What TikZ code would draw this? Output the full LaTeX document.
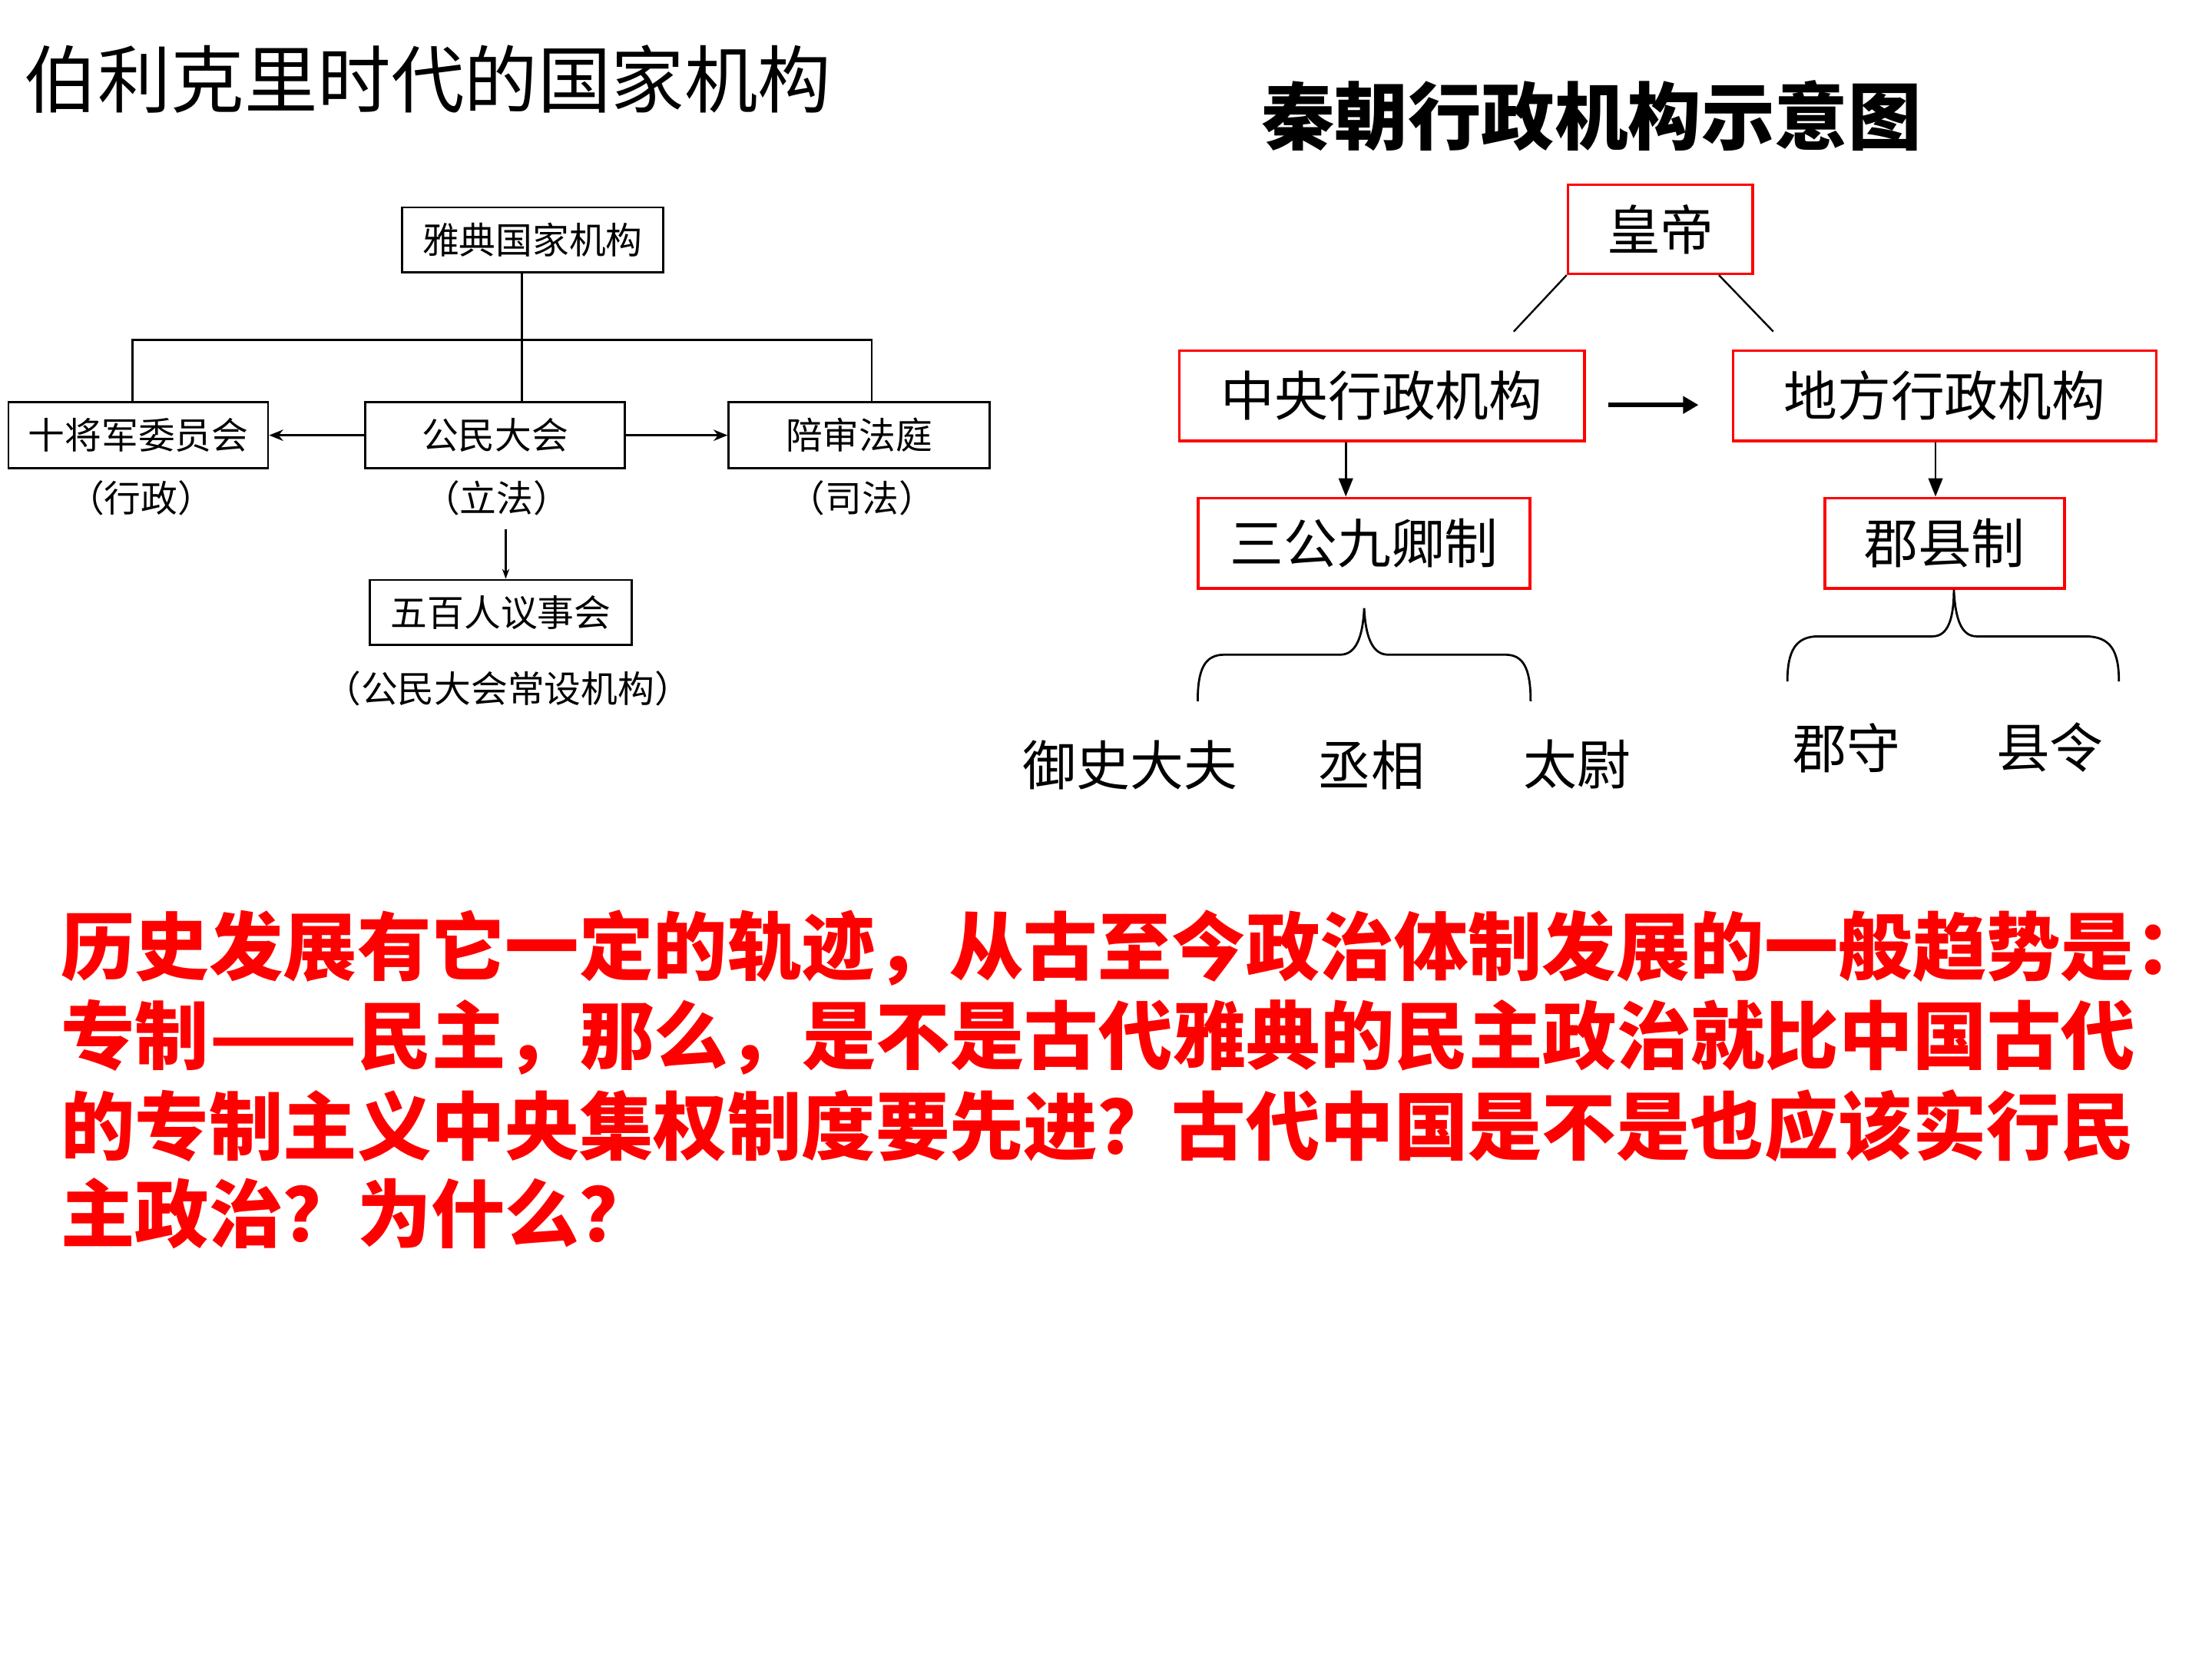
\documentclass[tikz,border=0pt]{standalone}
\usepackage{fontspec}
\setmainfont{Noto Sans CJK SC}
\usepackage{graphicx}
\usepackage{tikz}
\usetikzlibrary{arrows.meta,positioning,calc}
\tikzstyle{box} = [draw, line width=1.5pt, inner sep=0pt, font=\fontsize{26}{26}\selectfont]
\tikzstyle{redbox} = [draw=red, line width=2pt, inner sep=0pt, minimum height=64pt, font=\fontsize{38}{38}\selectfont]
\tikzstyle{note} = [inner sep=0pt, font=\fontsize{26}{26}\selectfont]
\tikzstyle{word} = [inner sep=0pt, font=\fontsize{38}{38}\selectfont]
\tikzstyle{arrow} = [line width=1.3pt, -{Stealth[length=10pt,width=8pt]}]
\tikzstyle{downarrow} = [line width=1.5pt, -{Triangle[length=13pt,width=10pt]}]
\tikzstyle{brace} = [line width=1.5pt]
\tikzstyle{question} = [anchor=west, inner sep=0pt, text=red, font=\fontsize{52.5}{52.5}\selectfont\bfseries]

\begin{document}
\begin{tikzpicture}[x=1pt, y=-1pt, >=stealth]
                \useasboundingbox (0,0) rectangle (1568,1176);
                \fill[white] (0,0) rectangle (1568,1176);
                % titles
                \node[anchor=west, inner sep=0pt, font=\fontsize{52}{52}\selectfont] (ltitle) at (17,56) {伯利克里时代的国家机构};
                \node[inner sep=0pt, font=\fontsize{52}{52}\selectfont\bfseries] (rtitle) at (1128,82) {秦朝行政机构示意图};
                % Athens
                \node[box, minimum width=185pt, minimum height=46pt] (athens) at (377.5,170) {雅典国家机构};
                \node[box, minimum width=184pt, minimum height=47pt] (generals) at (98,308.5) {十将军委员会};
                \node[box, minimum width=184pt, minimum height=47pt] (assembly) at (351,308.5) {公民大会};
                \node[box, minimum width=185pt, minimum height=47pt] (court) at (609,308.5) {陪审法庭};
                \node[box, minimum width=186pt, minimum height=46pt] (council) at (355,434) {五百人议事会};
                \node[note] (xingzheng) at (100,353) {（行政）};
                \node[note] (lifa) at (352,353) {（立法）};
                \node[note] (sifa) at (611,353) {（司法）};
                \node[note] (changshe) at (360,488) {（公民大会常设机构）};
                \coordinate (hub) at (370,241);
                \coordinate (lhub) at (94,241);
                \coordinate (rhub) at (618,241);
                \coordinate (cstart) at (358.5,375);
                \draw[line width=1.3pt] (hub |- athens.south) -- (hub |- assembly.north);
                \draw[line width=1.3pt] (lhub |- generals.north) -- (lhub) -- (rhub) -- (rhub |- court.north);
                \draw[arrow] (assembly.west) -- (generals.east);
                \draw[arrow] (assembly.east) -- (court.west);
                \draw[line width=1.2pt, -{Stealth[length=7pt,width=5pt]}] (cstart) -- (cstart |- council.north);
                % Qin
                \node[redbox, minimum width=131pt, minimum height=63pt] (huangdi) at (1177,162.5) {皇帝};
                \node[redbox, minimum width=287pt] (zhongyang) at (979.5,280.5) {中央行政机构};
                \node[redbox, minimum width=300pt] (difang) at (1378.5,280.5) {地方行政机构};
                \node[redbox, minimum width=235pt] (sangong) at (967,385) {三公九卿制};
                \node[redbox, minimum width=170pt] (junxian) at (1378.5,385) {郡县制};
                \coordinate (lend) at (1073,235);
                \coordinate (rend) at (1257,235);
                \draw[line width=1.3pt] (huangdi.south west) -- (lend);
                \draw[line width=1.3pt] ($(huangdi.south east)+(-25,0)$) -- (rend);
                \coordinate (ma) at (1140,287);
                \coordinate (mb) at (1204,287);
                \coordinate (ldown) at (954,0);
                \coordinate (rdown) at (1372,0);
                \draw[line width=3pt, -{Triangle[length=11pt,width=12pt]}] (ma) -- (mb);
                \draw[downarrow] (ldown |- zhongyang.south) -- (ldown |- sangong.north);
                \draw[downarrow] (rdown |- difang.south) -- (rdown |- junxian.north);
                % braces
                \draw[brace] (849,497) .. controls (849,474) and (854,464) .. (868,464) -- (950,464)
                        .. controls (961,464) and (966,452) .. (967,431)
                        .. controls (968,452) and (973,464) .. (984,464) -- (1067,464)
                        .. controls (1080,464) and (1085,474) .. (1085,497);
                \draw[brace] (1267,483) .. controls (1267,461) and (1273,451) .. (1289,451) -- (1370,451)
                        .. controls (1381,451) and (1385,438) .. (1385,418)
                        .. controls (1386,438) and (1390,451) .. (1401,451) -- (1478,451)
                        .. controls (1496,451) and (1502,461) .. (1502,483);
                \node[word] (yushi) at (801,542) {御史大夫};
                \node[word] (chengxiang) at (972,542) {丞相};
                \node[word] (taiwei) at (1118,542) {太尉};
                \node[word] (junshou) at (1309,530) {郡守};
                \node[word] (xianling) at (1453,530) {县令};
                % question
                \node[question] (q1) at (43,672) {历史发展有它一定的轨迹，从古至今政治体制发展的一般趋势是：};
                \node[question] (q2) at (43,735) {专制\scalebox{1.17}[1]{——}民主，那么，是不是古代雅典的民主政治就比中国古代};
                \node[question] (q3) at (43,798) {的专制主义中央集权制度要先进？古代中国是不是也应该实行民};
                \node[question] (q4) at (43,860) {主政治？为什么？};
            \end{tikzpicture}
\end{document}
